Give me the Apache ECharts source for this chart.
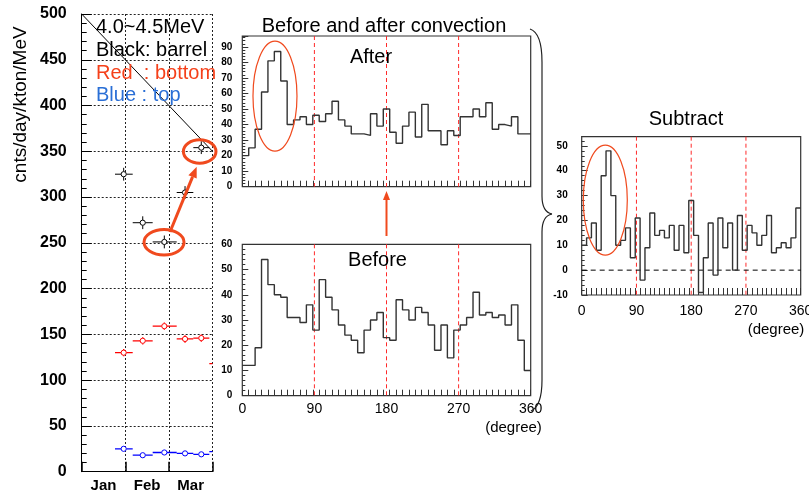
<!DOCTYPE html>
<html>
<head>
<meta charset="utf-8">
<script src="https://cdn.jsdelivr.net/npm/echarts@6/dist/echarts.min.js"></script>
<style>
html, body { margin: 0; padding: 0; background: #fff; }
#chart { width: 809px; height: 495px; }
</style>
</head>
<body>
<div id="chart"></div>
<script>
// ---- Rate vs. month (4.0~4.5 MeV) ----
const months = ['Jan', 'Feb', 'Mar'];
// time bins, in months from the start of January
const binLow  = [0.764, 1.170, 1.628, 2.179, 2.560, 2.927];
const binMid  = [0.963, 1.400, 1.895, 2.370, 2.743, 3.110];
const binHigh = [1.170, 1.628, 2.179, 2.560, 2.927, 3.290];
const barrelRate = [325, 272, 251, 305, 354, 328];
const barrelErr  = [7, 7, 7, 7, 7, 7];
const bottomRate = [130, 143, 159, 145, 146, 118];
const bottomErr  = [4, 4, 4, 4, 4, 4];
const topRate    = [25, 18, 21, 20, 19, 22];
const topErr     = [1, 1, 1, 1, 1, 1];
const pointerLine = [[0, 500], [3, 350]];

// ---- Azimuthal distributions, 8-degree bins from 0 to 360 ----
const afterCounts = [20, 25, 37, 61, 81, 87, 68, 40, 43, 45, 40, 46, 42, 47, 55, 43, 39, 34, 34, 33, 47, 39, 50,
  35, 28, 39, 48, 32, 53, 36, 36, 27, 36, 33, 45, 45, 50, 45, 54, 37, 40, 39, 45, 34, 34];
const beforeCounts = [12, 12, 19, 54, 44, 40, 39, 31, 31, 29, 36, 26, 46, 39, 34, 28, 24, 22, 17, 26, 30, 33, 23,
  22, 38, 34, 30, 35, 33, 28, 18, 28, 15, 26, 28, 31, 41, 32, 33, 31, 32, 28, 36, 22, 10];
const subtractCounts = [10, 13, 19, 8, 38, 48, 30, 10, 12, 17, 5, 21, -4, 9, 23, 14, 16, 13, 18, 8, 18, 7, 28,
  14, -9, 5, 19, -2, 21, 9, 19, 0, 22, 8, 18, 15, 10, 14, 22, 7, 9, 11, 9, 13, 25];
const degreeTicks = [0, 90, 180, 270, 360];
const quadrantLines = [90, 180, 270];
const zeroLine = [[0, 0], [360, 0]];

const FONT = '"Liberation Sans", Arial, Helvetica, sans-serif';
const ANNOT = '#f04a1e';
const QUAD = '#ff2a2a';
const chart = echarts.init(document.getElementById('chart'), null, { renderer: 'canvas' });

const binWidth = 360 / afterCounts.length;
function stepPoints(vals) {
  const pts = vals.map((v, i) => [i * binWidth, v]);
  pts.push([vals.length * binWidth, vals[vals.length - 1]]);
  return pts;
}

function errSeries(vals, errs, color, lw) {
  return {
    type: 'custom', xAxisIndex: 0, yAxisIndex: 0, clip: true, silent: true, z: 5,
    encode: { x: 0, y: 1 },
    data: binMid.map((m, i) => [m, vals[i], binLow[i], binHigh[i], errs[i]]),
    renderItem(params, api) {
      const cs = params.coordSys;
      const right = cs.x + cs.width;
      const c = api.coord([api.value(0), api.value(1)]);
      const l = api.coord([api.value(2), api.value(1)]);
      const r = api.coord([api.value(3), api.value(1)]);
      const t = api.coord([api.value(0), api.value(1) + api.value(4)]);
      const b = api.coord([api.value(0), api.value(1) - api.value(4)]);
      const rad = 2.6;
      const st = { stroke: color, lineWidth: lw };
      const kids = [];
      if (c[0] <= right) {
        kids.push({ type: 'line', shape: { x1: l[0], y1: c[1], x2: c[0] - rad, y2: c[1] }, style: st });
        kids.push({ type: 'line', shape: { x1: c[0] + rad, y1: c[1], x2: Math.min(r[0], right), y2: c[1] }, style: st });
        if (t[1] < c[1] - rad) kids.push({ type: 'line', shape: { x1: c[0], y1: t[1], x2: c[0], y2: c[1] - rad }, style: st });
        if (b[1] > c[1] + rad) kids.push({ type: 'line', shape: { x1: c[0], y1: c[1] + rad, x2: c[0], y2: b[1] }, style: st });
        kids.push({ type: 'circle', shape: { cx: c[0], cy: c[1], r: rad }, style: { fill: '#fff', stroke: color, lineWidth: 1 } });
      } else if (l[0] < right) {
        kids.push({ type: 'line', shape: { x1: l[0], y1: c[1], x2: right, y2: c[1] }, style: st });
      }
      return { type: 'group', children: kids };
    }
  };
}

// red dashed verticals marking 90/180/270 degrees, spanning the whole plot height
function quadSeries(xi, yi) {
  return {
    type: 'custom', xAxisIndex: xi, yAxisIndex: yi, silent: true, z: 1,
    encode: { x: 0 },
    data: quadrantLines.map(v => [v]),
    renderItem(params, api) {
      const cs = params.coordSys;
      const x = api.coord([api.value(0), 0])[0];
      return { type: 'line', shape: { x1: x, y1: cs.y, x2: x, y2: cs.y + cs.height },
        style: { stroke: QUAD, lineWidth: 1, lineDash: [4, 3] } };
    }
  };
}

const histTickAxis = (grid, len) => ({
  gridIndex: grid, type: 'value', min: 0, max: 360, interval: binWidth, position: 'bottom',
  axisLine: { show: false, onZero: false },
  axisTick: { show: true, inside: true, length: len, lineStyle: { color: '#333', width: 1 } },
  axisLabel: { show: false }, splitLine: { show: false }
});
const histLabelAxis = (grid, margin) => ({
  gridIndex: grid, type: 'value', min: 0, max: 360, interval: 90, position: 'bottom',
  axisLine: { show: false, onZero: false }, axisTick: { show: false },
  axisLabel: { show: true, fontFamily: FONT, fontSize: 14, color: '#000', margin: margin,
    showMinLabel: true, showMaxLabel: true,
    formatter: v => (degreeTicks.indexOf(v) >= 0 ? String(v) : '') },
  splitLine: { show: false }
});
const histYAxis = (grid, min, max, size, margin) => ({
  gridIndex: grid, type: 'value', min: min, max: max, interval: 10,
  axisLine: { show: false, onZero: false },
  axisTick: { show: true, inside: true, length: 6, lineStyle: { color: '#333' } },
  minorTick: { show: true, splitNumber: 5, length: 3, lineStyle: { color: '#333' } },
  axisLabel: { fontFamily: FONT, fontWeight: 'bold', fontSize: size, color: '#000', margin: margin,
    showMaxLabel: max % 10 === 0, formatter: v => (v % 10 === 0 ? String(v) : '') },
  splitLine: { show: false }
});

const histLine = { color: '#333', width: 1.4 };

const option = {
  animation: false,
  backgroundColor: '#fff',
  grid: [
    { left: 81.7, top: 14, width: 130.8, height: 457.7, outerBoundsMode: 'none' },
    { left: 242.3, top: 36, width: 288.4, height: 150.7, show: true, borderColor: '#333', borderWidth: 1.2, outerBoundsMode: 'none' },
    { left: 242.3, top: 244.3, width: 288.4, height: 151.4, show: true, borderColor: '#333', borderWidth: 1.2, outerBoundsMode: 'none' },
    { left: 581.7, top: 136.7, width: 219, height: 158.3, show: true, borderColor: '#333', borderWidth: 1.2, outerBoundsMode: 'none' }
  ],
  xAxis: [
    { gridIndex: 0, type: 'value', min: 0, max: 3, interval: 1, position: 'bottom',
      axisLine: { show: true, onZero: false, lineStyle: { color: '#000', width: 1 } },
      axisTick: { show: true, inside: true, length: 10, lineStyle: { color: '#000', width: 1.5 } },
      axisLabel: { show: false },
      splitLine: { show: true, lineStyle: { color: '#222', type: [2, 2], width: 1 } } },
    { gridIndex: 0, type: 'category', data: months, boundaryGap: true, position: 'bottom',
      axisLine: { show: false }, axisTick: { show: false },
      axisLabel: { fontFamily: FONT, fontWeight: 'bold', fontSize: 15, color: '#000', margin: 7 },
      splitLine: { show: false } },
    histTickAxis(1, 6),
    histTickAxis(2, 6),
    histLabelAxis(2, 6),
    histTickAxis(3, 7),
    histLabelAxis(3, 9)
  ],
  yAxis: [
    { gridIndex: 0, type: 'value', min: 0, max: 500, interval: 50,
      axisLine: { show: true, lineStyle: { color: '#000', width: 1 } },
      axisTick: { show: true, inside: true, length: 10, lineStyle: { color: '#000' } },
      minorTick: { show: true, splitNumber: 5, length: 5, lineStyle: { color: '#000' } },
      axisLabel: { fontFamily: FONT, fontWeight: 'bold', fontSize: 16, color: '#000', margin: 15 },
      splitLine: { show: true, lineStyle: { color: '#222', type: [2, 2], width: 1 } } },
    histYAxis(1, 0, 97, 10, 10),
    histYAxis(2, 0, 60, 10, 10),
    histYAxis(3, -10, 53.7, 10, 14)
  ],
  series: [
    { type: 'line', xAxisIndex: 0, yAxisIndex: 0, data: pointerLine, symbol: 'none', silent: true,
      lineStyle: { color: '#000', width: 1 }, z: 3 },
    errSeries(barrelRate, barrelErr, '#000', 1),
    errSeries(bottomRate, bottomErr, '#ff0000', 1.3),
    errSeries(topRate, topErr, '#0000ff', 1.3),
    quadSeries(2, 1),
    quadSeries(3, 2),
    quadSeries(5, 3),
    { type: 'line', step: 'end', xAxisIndex: 2, yAxisIndex: 1, data: stepPoints(afterCounts),
      symbol: 'none', silent: true, lineStyle: histLine, z: 2 },
    { type: 'line', step: 'end', xAxisIndex: 3, yAxisIndex: 2, data: stepPoints(beforeCounts),
      symbol: 'none', silent: true, lineStyle: histLine, z: 2 },
    { type: 'line', xAxisIndex: 5, yAxisIndex: 3, data: zeroLine, symbol: 'none', silent: true,
      lineStyle: { color: '#000', type: [5, 4], width: 1 }, z: 1 },
    { type: 'line', step: 'end', xAxisIndex: 5, yAxisIndex: 3, data: stepPoints(subtractCounts),
      symbol: 'none', silent: true, lineStyle: histLine, z: 2 }
  ]
};
chart.setOption(option);

// ---- annotations: labels, circled regions, arrows, brace ----
const px = (xi, yi, pt) => chart.convertToPixel({ xAxisIndex: xi, yAxisIndex: yi }, pt);

function text(x, y, s, size, opt) {
  opt = opt || {};
  return {
    type: 'text', x: x, y: y, rotation: opt.rotation || 0, z: 100,
    style: {
      text: s, fontFamily: FONT, fontSize: size, fontWeight: opt.weight || 'normal',
      fill: opt.fill || '#000',
      align: opt.align || 'center', verticalAlign: 'middle',
      textAlign: opt.align || 'center', textVerticalAlign: 'middle'
    }
  };
}
function ellipse(c, rx, ry, lw) {
  return { type: 'ellipse', z: 100, shape: { cx: c[0], cy: c[1], rx: rx, ry: ry },
    style: { fill: 'none', stroke: ANNOT, lineWidth: lw } };
}
function arrow(p1, p2, lw, headLen, headW) {
  const a = Math.atan2(p2[1] - p1[1], p2[0] - p1[0]);
  const bx = p2[0] - headLen * Math.cos(a), by = p2[1] - headLen * Math.sin(a);
  const ox = -Math.sin(a) * headW / 2, oy = Math.cos(a) * headW / 2;
  return [
    { type: 'line', z: 100, shape: { x1: p1[0], y1: p1[1], x2: bx, y2: by }, style: { stroke: ANNOT, lineWidth: lw } },
    { type: 'polygon', z: 100, shape: { points: [[p2[0], p2[1]], [bx + ox, by + oy], [bx - ox, by - oy]] },
      style: { fill: ANNOT } }
  ];
}
const braceStyle = { fill: 'none', stroke: '#222', lineWidth: 1.2 };
function curve(x1, y1, cx, cy, x2, y2) {
  return { type: 'bezierCurve', z: 100, shape: { x1: x1, y1: y1, cpx1: cx, cpy1: cy, x2: x2, y2: y2 }, style: braceStyle };
}
function seg(x1, y1, x2, y2) {
  return { type: 'line', z: 100, shape: { x1: x1, y1: y1, x2: x2, y2: y2 }, style: braceStyle };
}

const midX = px(2, 1, [180, 0])[0];
const elements = [
  text(96, 27, '4.0~4.5MeV', 20, { align: 'left' }),
  text(96, 50, 'Black: barrel', 20, { align: 'left' }),
  text(96, 73.3, 'Red  : bottom', 20, { align: 'left', fill: '#f5401a' }),
  text(96, 95, 'Blue : top', 20, { align: 'left', fill: '#2a6fd6' }),
  text(21, 104.5, 'cnts/day/kton/MeV', 19, { rotation: Math.PI / 2 }),
  text(384, 26, 'Before and after convection', 20),
  text(371, 57, 'After', 20),
  text(377.5, 260, 'Before', 20),
  text(686, 119, 'Subtract', 20),
  text(513.5, 428, '(degree)', 15),
  text(776, 330, '(degree)', 15),
  ellipse(px(0, 0, [2.706, 349.8]), 16.3, 11.7, 3),
  ellipse(px(0, 0, [1.888, 250.7]), 20, 12.8, 3),
  ellipse(px(2, 1, [40.8, 58.3]), 22, 55, 1.2),
  ellipse(px(5, 3, [38.8, 28.2]), 22, 55, 1.2),
  // curly brace joining the two panels
  curve(530, 29, 542, 33, 542, 62),
  seg(542, 62, 542, 196),
  curve(542, 196, 542, 212, 552, 214),
  curve(552, 214, 542, 216, 542, 232),
  seg(542, 232, 542, 380),
  curve(542, 380, 542, 406, 531, 411)
].concat(
  arrow(px(0, 0, [2.025, 261.9]), px(0, 0, [2.638, 333.2]), 3, 11, 9),
  arrow([midX, 236], [midX, 191], 2, 9, 7)
);
chart.setOption({ graphic: { elements: elements } });
</script>
</body>
</html>
